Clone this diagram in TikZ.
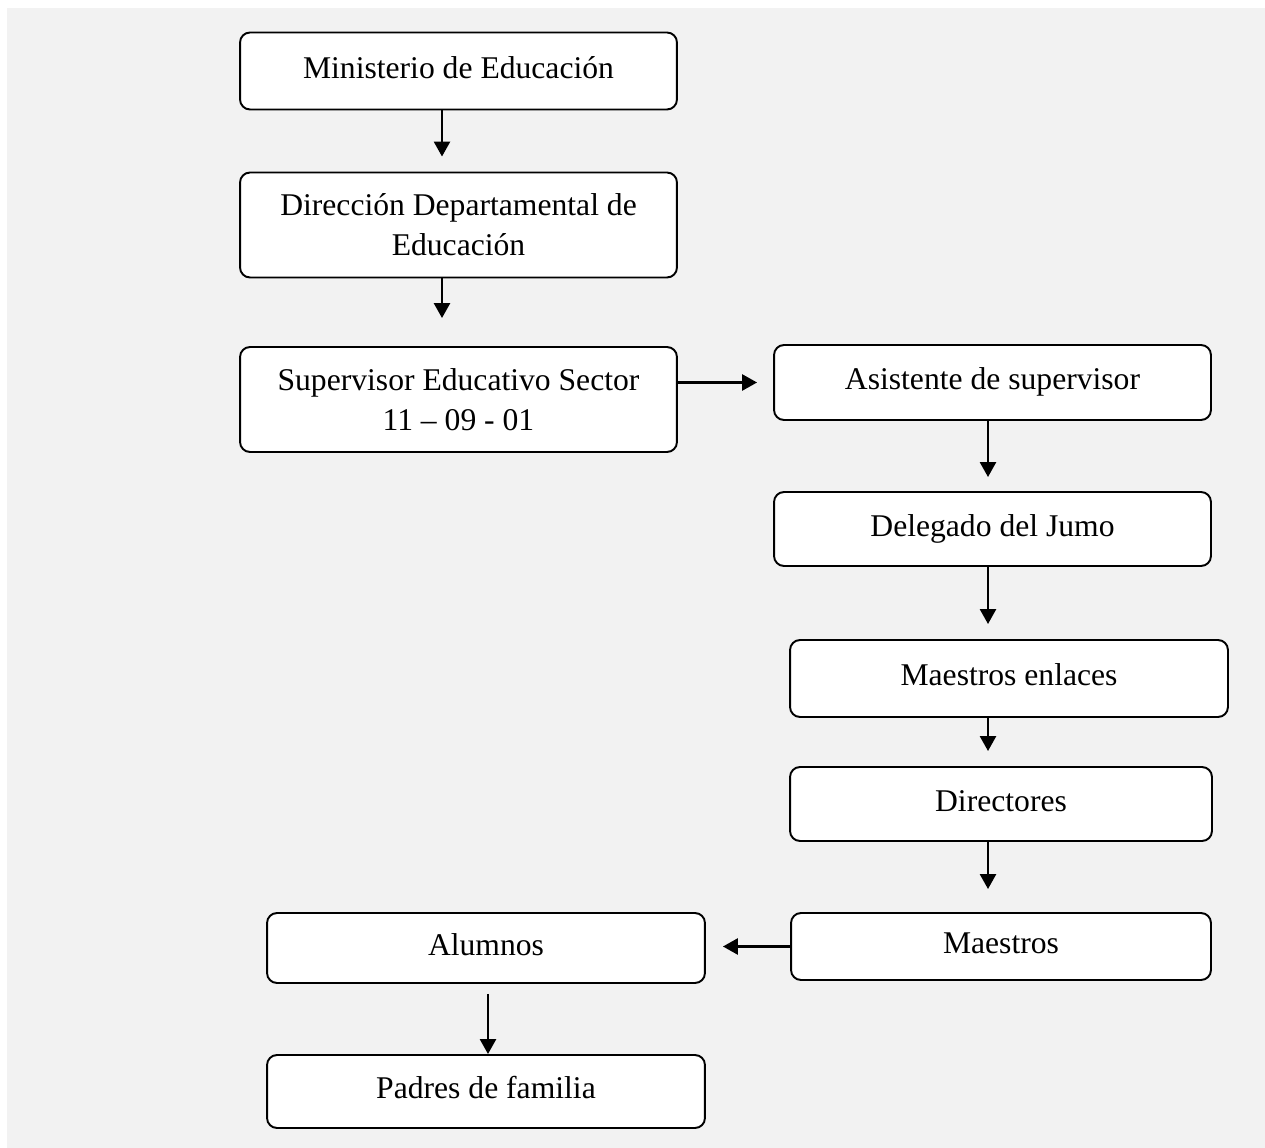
\documentclass[tikz,border=0pt]{standalone}
\usepackage{fontspec}
\setmainfont{Liberation Serif}
\usetikzlibrary{arrows.meta}
\definecolor{fondo}{RGB}{242,242,242}
\tikzset{
caja/.style={draw, fill=white, rounded corners=0.2cm, line width=1.1pt, align=center, inner sep=0pt, font=\fontsize{18}{22.8}\selectfont},
uno/.style={text height=12pt, text depth=4pt},
flecha/.style={->, line width=1.5pt},
>={Triangle[length=0.3cm,width=0.32cm]}
}

\begin{document}
\begin{tikzpicture}[x=0.02cm, y=-0.02cm]

%BACKGROUND
\fill [white] (0,0) rectangle (1265,1148);
\fill [fondo] (7,8) rectangle (1265,1148);

%BOXES
%Left column
\node [caja, uno, minimum width=8.74cm, minimum height=1.54cm] (mined) at (458.5,71) {Ministerio de Educación};
\node [caja, minimum width=8.74cm, minimum height=2.1cm] (dde) at (458.5,225) {Dirección Departamental de\\Educación};
\node [caja, minimum width=8.74cm, minimum height=2.1cm] (sup) at (458.5,399.5) {Supervisor Educativo Sector\\11 – 09 - 01};

%Right column
\node [caja, uno, minimum width=8.74cm, minimum height=1.5cm] (asis) at (992.5,382.5) {Asistente de supervisor};
\node [caja, uno, minimum width=8.74cm, minimum height=1.48cm] (deleg) at (992.5,529) {Delegado del Jumo};
\node [caja, uno, minimum width=8.76cm, minimum height=1.54cm] (menl) at (1009,678.5) {Maestros enlaces};
\node [caja, uno, minimum width=8.44cm, minimum height=1.48cm] (dir) at (1001,804) {Directores};
\node [caja, uno, minimum width=8.4cm, minimum height=1.34cm] (maes) at (1001,946.5) {Maestros};

%Bottom left
\node [caja, uno, minimum width=8.76cm, minimum height=1.4cm] (alum) at (486,948) {Alumnos};
\node [caja, uno, minimum width=8.76cm, minimum height=1.46cm] (padres) at (486,1091.5) {Padres de familia};

%ARROWS
\coordinate (colA) at (442,0);
\coordinate (colB) at (988,0);
\coordinate (colC) at (488,0);

\draw [flecha, shorten >=0.3cm] (mined.south -| colA) -- (dde.north -| colA);
\draw [flecha, shorten >=0.56cm] (dde.south -| colA) -- (sup.north -| colA);
\draw [flecha, shorten >=0.32cm] (sup.east |- asis.west) -- (asis.west);
\foreach \a/\b/\s in {asis/deleg/0.28cm, deleg/menl/0.3cm, menl/dir/0.3cm, dir/maes/0.46cm}
{
\draw [flecha, shorten >=\s] (\a.south -| colB) -- (\b.north -| colB);
}
\draw [flecha, shorten >=0.34cm] (maes.west) -- (alum.east |- maes.west);
\draw [flecha, shorten <=0.2cm] (alum.south -| colC) -- (padres.north -| colC);

\end{tikzpicture}
\end{document}
